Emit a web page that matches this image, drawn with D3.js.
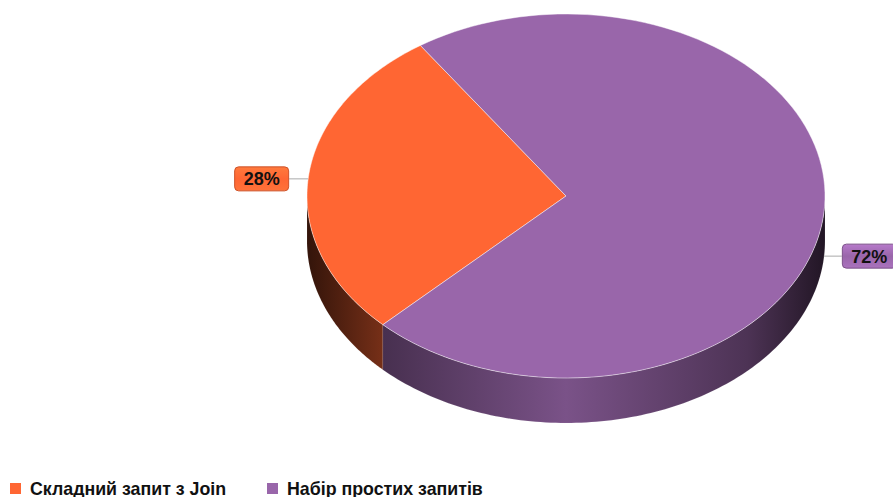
<!DOCTYPE html>
<html><head><meta charset="utf-8">
<script src="https://cdn.jsdelivr.net/npm/d3@7"></script>
<style>body{margin:0;background:#fff}svg{display:block}</style>
</head><body>
<svg id="c" width="893" height="497"></svg>
<script>
const categories = ["Складний запит з Join", "Набір простих запитів"];
const values = [28, 72];
const colors = ["#FF6633", "#9966AA"];
const labels = ["28%", "72%"];

const W = 893, H = 497;
const cx = 566, cy = 196, rx = 259, ry = 182, depth = 45;
const startDeg = 225; // orange slice starts here (clockwise from top)

const svg = d3.select("#c");
const defs = svg.append("defs");

const pie = d3.pie().sort(null).value(d => d)
  .startAngle(startDeg * Math.PI / 180)
  .endAngle((startDeg + 360) * Math.PI / 180);
const arcs = pie(values);

const px = a => cx + rx * Math.sin(a);
const py = a => cy - ry * Math.cos(a);

function topPath(a0, a1) {
  const p = d3.path();
  p.moveTo(cx, cy);
  p.lineTo(px(a0), py(a0));
  const n = 120;
  for (let i = 1; i <= n; i++) { const a = a0 + (a1 - a0) * i / n; p.lineTo(px(a), py(a)); }
  p.closePath();
  return p.toString();
}
function sidePath(a0, a1) {
  const p = d3.path();
  const n = 120;
  p.moveTo(px(a0), py(a0));
  for (let i = 1; i <= n; i++) { const a = a0 + (a1 - a0) * i / n; p.lineTo(px(a), py(a)); }
  for (let i = n; i >= 0; i--) { const a = a0 + (a1 - a0) * i / n; p.lineTo(px(a), py(a) + depth); }
  p.closePath();
  return p.toString();
}

colors.forEach((c, i) => {
  const g = defs.append("linearGradient").attr("id", "side" + i)
    .attr("gradientUnits", "userSpaceOnUse")
    .attr("x1", cx - rx).attr("x2", cx + rx).attr("y1", 0).attr("y2", 0);
  const base = d3.rgb(c);
  const stops = [[0, 0.2], [0.15, 0.47], [0.5, 0.8], [0.85, 0.5], [1, 0.22]];
  stops.forEach(([o, k]) => {
    g.append("stop").attr("offset", o)
      .attr("stop-color", d3.rgb(base.r * k, base.g * k, base.b * k).formatHex());
  });
  const lg = defs.append("linearGradient").attr("id", "lab" + i)
    .attr("x1", 0).attr("x2", 0).attr("y1", 0).attr("y2", 1);
  lg.append("stop").attr("offset", 0).attr("stop-color", d3.rgb(c).brighter(0.5).formatHex());
  lg.append("stop").attr("offset", 0.5).attr("stop-color", c);
  lg.append("stop").attr("offset", 1).attr("stop-color", d3.rgb(c).brighter(0.3).formatHex());
});

const TAU = Math.PI * 2;
const sides = svg.append("g");
arcs.forEach((d, i) => {
  for (let k = -1; k <= 2; k++) {
    const lo = Math.PI / 2 + k * TAU, hi = 1.5 * Math.PI + k * TAU;
    const a0 = Math.max(d.startAngle, lo), a1 = Math.min(d.endAngle, hi);
    if (a1 > a0) {
      sides.append("path").attr("d", sidePath(a0, a1))
        .attr("fill", `url(#side${i})`)
        .attr("stroke", "rgba(255,255,255,0.15)").attr("stroke-width", 0.6);
    }
  }
});

const tops = svg.append("g");
arcs.forEach((d, i) => {
  tops.append("path").attr("d", topPath(d.startAngle, d.endAngle))
    .attr("fill", colors[i])
    .attr("stroke", "rgba(255,255,255,0.45)").attr("stroke-width", 1);
});

const labelG = svg.append("g");
arcs.forEach((d, i) => {
  const m = (d.startAngle + d.endAngle) / 2;
  const ex = px(m);
  let ey = py(m);
  if (i === 1) ey += depth - 2;
  const right = Math.sin(m) > 0;
  const bw = 55, bh = 25;
  const bx = right ? ex + 18 : ex - 19 - bw;
  labelG.append("line")
    .attr("x1", ex).attr("y1", ey)
    .attr("x2", right ? bx : bx + bw).attr("y2", ey)
    .attr("stroke", "#aaa").attr("stroke-width", 1);
  labelG.append("rect")
    .attr("x", bx + 0.5).attr("y", ey - bh / 2 + 0.5)
    .attr("width", bw - 1).attr("height", bh - 1)
    .attr("rx", 4).attr("ry", 4)
    .attr("fill", `url(#lab${i})`)
    .attr("stroke", d3.rgb(colors[i]).darker(0.6).formatHex()).attr("stroke-width", 1);
  labelG.append("text")
    .attr("x", bx + bw / 2).attr("y", ey + 6.5)
    .attr("text-anchor", "middle")
    .attr("font-family", "Liberation Sans, Arial, sans-serif")
    .attr("font-weight", "bold").attr("font-size", 18)
    .attr("fill", "#111")
    .text(labels[i]);
});

const legX = [10, 267];
const leg = svg.append("g");
categories.forEach((c, i) => {
  leg.append("rect").attr("x", legX[i]).attr("y", 483).attr("width", 11).attr("height", 11)
    .attr("fill", colors[i]);
  leg.append("text").attr("x", legX[i] + 20).attr("y", 494.5)
    .attr("font-family", "Liberation Sans, Arial, sans-serif")
    .attr("font-weight", "bold").attr("font-size", 17.8)
    .attr("fill", "#111").text(c);
});
</script>
</body></html>
